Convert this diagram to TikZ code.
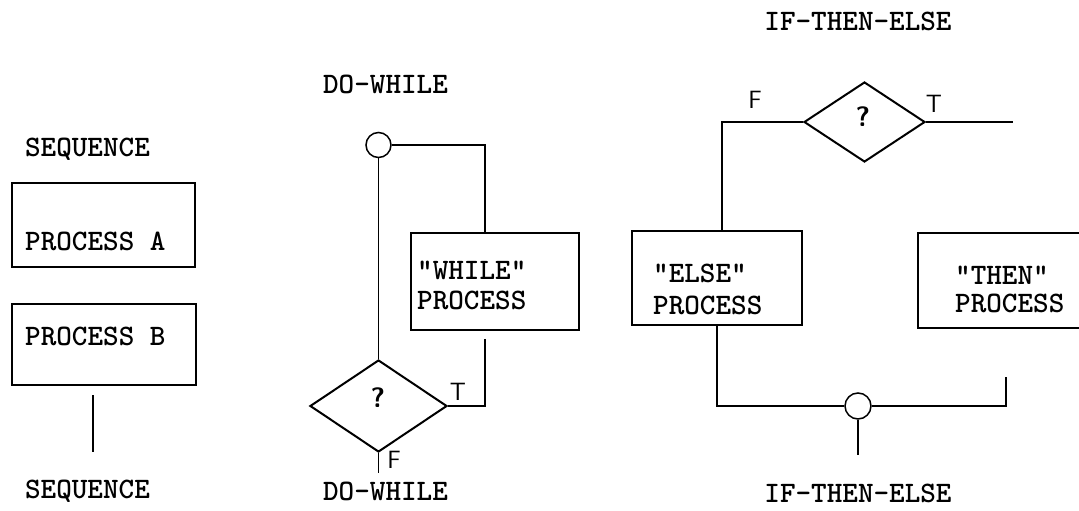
\documentclass[tikz,border=0pt]{standalone}
\usetikzlibrary{shapes.geometric}
\begin{document}
\begin{tikzpicture}[x=1pt,y=-1pt,
  line/.style={line width=1.4pt},
  pbox/.style={draw, rectangle, line width=1.5pt, inner sep=0pt},
  dec/.style={draw, diamond, line width=2pt, inner sep=0pt},
  conn/.style={draw, circle, line width=1.5pt, inner sep=0pt},
  tw/.style={font=\fontsize{29.7}{34}\selectfont\ttfamily\bfseries, inner sep=0pt, anchor=base},
  twl/.style={tw, anchor=base west},
  hand/.style={font=\fontsize{25}{28}\selectfont\sffamily, inner sep=0pt},
  qm/.style={font=\fontsize{28}{32}\selectfont\sffamily\bfseries, inner sep=0pt}
]
\clip (0,0) rectangle (1079,511);

% ---------------- SEQUENCE ----------------
\node[tw] (seqtop) at (87.5,156) {SEQUENCE};
\node[pbox, minimum width=183pt, minimum height=84pt] (bA) at (103.5,225) {};
\node[twl] (tA) at (25,250) {PROCESS A};
\node[pbox, minimum width=184pt, minimum height=81pt] (bB) at (104,344.5) {};
\node[twl] (tB) at (25,345) {PROCESS B};
\coordinate (sq1) at (93,395);
\coordinate (sq2) at (93,452);
\draw[line] (sq1) -- (sq2);
\node[tw] (seqbot) at (87.5,498) {SEQUENCE};

% ---------------- DO-WHILE ----------------
\node[tw] (dwtop) at (385.5,93) {DO-WHILE};
\node[conn, minimum size=25pt] (c1) at (378.5,145) {};
\node[pbox, minimum width=168pt, minimum height=97pt] (wbox) at (495,281.5) {};
\node[twl] (tw1) at (417,279) {"WHILE"};
\node[twl] (tw2) at (417,309) {PROCESS};
\node[dec, minimum width=137pt, minimum height=92pt] (d1) at (378.5,406) {};
\node[qm] (q1) at (378,398) {?};
\node[hand] (t1) at (458,392) {T};
\node[hand] (f1) at (394,460) {F};
\coordinate (wx) at (485,0);
\coordinate (dwe) at (378.5,473);
\draw[line] (c1.east) -| (wx |- wbox.north);
\draw[line] ([yshift=-8pt]wx |- wbox.south) |- (d1.east);
\draw[line] (c1.south) -- (d1.north);
\draw[line] (d1.south) -- (dwe);
\node[tw] (dwbot) at (385.5,500) {DO-WHILE};

% ---------------- IF-THEN-ELSE ----------------
\node[tw] (ittop) at (858,31) {IF-THEN-ELSE};
\node[dec, minimum width=121pt, minimum height=80pt] (d2) at (864.5,122) {};
\node[qm] (q2) at (863,117) {?};
\node[hand] (f2) at (755,100) {F};
\node[hand] (t2) at (934,104) {T};
\node[pbox, minimum width=170pt, minimum height=94pt] (ebox) at (717,278) {};
\node[twl] (te1) at (653,282) {"ELSE"};
\node[twl] (te2) at (653,314) {PROCESS};
\node[pbox, minimum width=180pt, minimum height=95pt] (tbox) at (1008,280.5) {};
\node[twl] (tt1) at (955,284) {"THEN"};
\node[twl] (tt2) at (955,312) {PROCESS};
\node[conn, minimum size=26pt] (c2) at (858,406) {};
\coordinate (ex) at (722,0);
\coordinate (tr) at (1013,0);
\coordinate (tj) at (1006,377);
\coordinate (ie) at (858,455);
\draw[line] (d2.west) -| (ex |- ebox.north);
\draw[line] (d2.east) -- (d2.east -| tr);
\draw[line] (ebox.south) |- (c2.west);
\draw[line] (c2.east) -| (tj);
\draw[line] (c2.south) -- (ie);
\node[tw] (itbot) at (858,502) {IF-THEN-ELSE};
\end{tikzpicture}
\end{document}
